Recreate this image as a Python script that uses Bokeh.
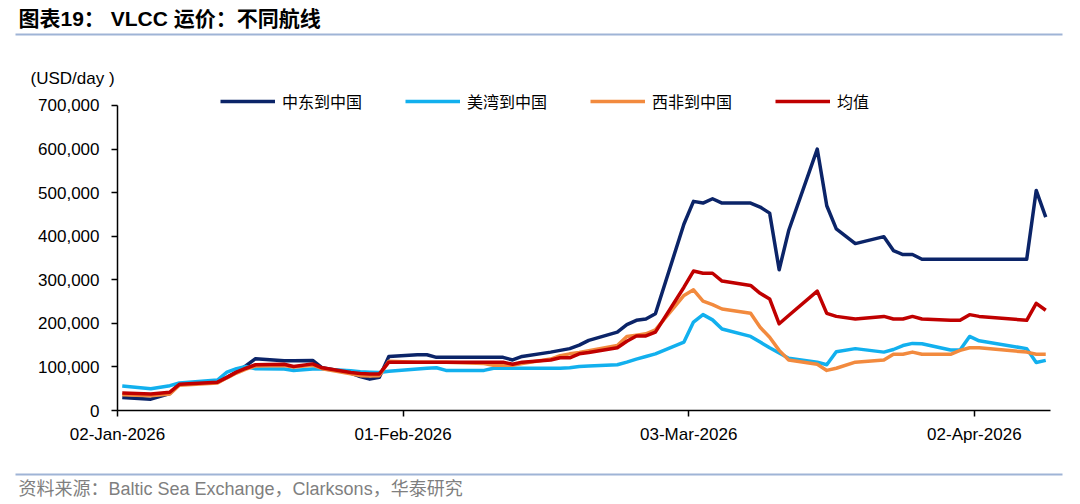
import pandas as pd
from bokeh.plotting import figure
from bokeh.layouts import column
from bokeh.models import (ColumnDataSource, Legend, LegendItem, Label, BoxAnnotation,
                          FixedTicker, DatetimeTickFormatter, NumeralTickFormatter, Range1d)
from bokeh.embed import file_html
from bokeh.resources import INLINE

# ---------------- data (values in thousand USD/day) ----------------
dates = ["2026-01-02", "2026-01-05", "2026-01-07", "2026-01-08", "2026-01-12", "2026-01-13",
         "2026-01-14", "2026-01-15", "2026-01-16", "2026-01-19", "2026-01-20", "2026-01-22",
         "2026-01-23", "2026-01-26", "2026-01-27", "2026-01-28", "2026-01-29", "2026-01-30",
         "2026-02-02", "2026-02-03", "2026-02-04", "2026-02-05", "2026-02-09", "2026-02-10",
         "2026-02-11", "2026-02-12", "2026-02-13", "2026-02-16", "2026-02-17", "2026-02-18",
         "2026-02-19", "2026-02-20", "2026-02-23", "2026-02-24", "2026-02-25", "2026-02-26",
         "2026-02-27", "2026-03-02", "2026-03-03", "2026-03-04", "2026-03-05", "2026-03-06",
         "2026-03-09", "2026-03-10", "2026-03-11", "2026-03-12", "2026-03-13", "2026-03-16",
         "2026-03-17", "2026-03-18", "2026-03-20", "2026-03-23", "2026-03-24", "2026-03-25",
         "2026-03-26", "2026-03-27", "2026-03-30", "2026-03-31", "2026-04-01", "2026-04-02",
         "2026-04-07", "2026-04-08", "2026-04-09"]

me_china = [30, 26, 39, 60, 65, 76, 88, 103, 119, 114, 114, 115, 98, 86, 78, 72, 76, 124,
            128, 128, 122, 122, 122, 122, 122, 116, 124, 134, 138, 142, 150, 161, 180, 197,
            207, 210, 222, 428, 480, 476, 486, 476, 476, 467, 453, 323, 413, 600, 470, 417,
            383, 399, 367, 358, 358, 347, 347, 347, 347, 347, 347, 505, 444]

usg_china = [56, 50, 57, 63, 70, 88, 96, 101, 96, 95, 92, 95, 95, 91, 89, 88, 87, 90,
             95, 97, 98, 92, 92, 97, 97, 97, 97, 97, 97, 98, 101, 102, 105, 111,
             118, 124, 130, 157, 203, 220, 208, 187, 170, 157, 144, 132, 120, 111, 105, 135,
             142, 134, 140, 149, 154, 153, 139, 139, 170, 160, 142, 110, 115]

waf_china = [36, 34, 38, 58, 63, 75, 86, 95, 102, 103, 100, 104, 96, 84, 80, 79, 80, 113,
             111, 111, 111, 111, 108, 104, 104, 104, 108, 118, 126, 130, 133, 137, 149, 170,
             173, 176, 185, 264, 277, 251, 243, 233, 223, 191, 168, 138, 116, 106, 92, 97,
             111, 116, 129, 129, 134, 129, 129, 138, 144, 144, 134, 129, 129]

average = [40, 38, 42, 60, 65, 76, 88, 97, 105, 106, 101, 107, 98, 87, 85, 84, 84, 111,
           111, 111, 111, 111, 111, 111, 111, 106, 111, 116, 121, 121, 130, 133, 144, 159,
           171, 171, 180, 283, 320, 315, 315, 297, 287, 269, 256, 199, 218, 274, 223, 216,
           210, 216, 210, 210, 216, 210, 207, 207, 220, 216, 207, 246, 230]

series_names = ["中东到中国", "美湾到中国", "西非到中国", "均值"]
series_colors = ["#0B2468", "#12B0EE", "#F28A3E", "#C00000"]
y_ticks = [0, 100000, 200000, 300000, 400000, 500000, 600000, 700000]
x_tick_dates = ["2026-01-02", "2026-02-01", "2026-03-03", "2026-04-02"]
x_start, x_end = "2026-01-02", "2026-04-10"

title_text = "图表19： VLCC 运价：不同航线"
unit_text = "(USD/day )"
source_text = "资料来源：Baltic Sea Exchange，Clarksons，华泰研究"

font = "Liberation Sans, Noto Sans CJK SC"
cjk = "Noto Sans CJK SC"
rule_color = "#9FB4D6"
W = 1080


def blank_fig(h):
    f = figure(width=W, height=h, output_backend="svg", toolbar_location=None, title=None,
               x_axis_location=None, y_axis_location=None,
               x_range=Range1d(0, 1), y_range=Range1d(0, 1),
               min_border_left=0, min_border_right=0, min_border_top=0, min_border_bottom=0)
    f.frame_align = False
    f.xgrid.visible = False
    f.ygrid.visible = False
    f.outline_line_color = None
    f.background_fill_color = "white"
    f.border_fill_color = "white"
    return f


# ---------------- header (title, rule, unit) ----------------
TOP_H = 88
top = blank_fig(TOP_H)
top.add_layout(Label(x=18, y=TOP_H - 18, x_units="screen", y_units="screen", text=title_text,
                     text_font=font, text_font_size="21px", text_font_style="bold",
                     text_color="black", text_baseline="middle", text_align="left"))
top.add_layout(BoxAnnotation(left=15, right=1062, top=TOP_H - 33, bottom=TOP_H - 35,
                             left_units="screen", right_units="screen",
                             top_units="screen", bottom_units="screen",
                             fill_color=rule_color, fill_alpha=1, line_color=None))
top.add_layout(Label(x=30, y=TOP_H - 78, x_units="screen", y_units="screen", text=unit_text,
                     text_font=font, text_font_size="17px", text_color="black",
                     text_baseline="middle", text_align="left"))

# ---------------- main chart ----------------
x = pd.to_datetime(dates) + pd.Timedelta(hours=12)   # points sit mid-day (Excel date axis)
src = ColumnDataSource(dict(
    x=x,
    me=[v * 1000 for v in me_china],
    usg=[v * 1000 for v in usg_china],
    waf=[v * 1000 for v in waf_china],
    avg=[v * 1000 for v in average],
))

MAIN_H = 374
p = figure(width=W, height=MAIN_H, x_axis_type="datetime", output_backend="svg",
           toolbar_location=None, title=None,
           x_range=Range1d(pd.Timestamp(x_start), pd.Timestamp(x_end)),
           y_range=Range1d(0, 739000),
           min_border_left=117, min_border_right=30, min_border_top=0, min_border_bottom=52)
p.frame_align = False
p.xgrid.visible = False
p.ygrid.visible = False
p.outline_line_color = None
p.background_fill_color = "white"
p.border_fill_color = "white"

ya = p.yaxis[0]
ya.ticker = FixedTicker(ticks=y_ticks)
ya.bounds = (y_ticks[0], y_ticks[-1])
ya.formatter = NumeralTickFormatter(format="0,0")
ya.major_tick_out = 6
ya.major_tick_in = 0
ya.minor_tick_out = 0
ya.minor_tick_in = 0
ya.axis_line_color = "black"
ya.axis_line_width = 1.5
ya.major_tick_line_color = "black"
ya.major_tick_line_width = 1.5
ya.major_label_text_font = font
ya.major_label_text_font_size = "17px"
ya.major_label_text_color = "black"
ya.major_label_standoff = 12

xa = p.xaxis[0]
tick_ms = [int(pd.Timestamp(d).value // 10**6) for d in x_tick_dates]
xa.ticker = FixedTicker(ticks=tick_ms)
fmt = "%d-%b-%Y"
xa.formatter = DatetimeTickFormatter(microseconds=fmt, milliseconds=fmt, seconds=fmt, minsec=fmt,
                                     minutes=fmt, hourmin=fmt, hours=fmt, days=fmt,
                                     months=fmt, years=fmt)
xa.major_tick_out = 6
xa.major_tick_in = 0
xa.minor_tick_out = 0
xa.minor_tick_in = 0
xa.axis_line_color = "black"
xa.axis_line_width = 1.5
xa.major_tick_line_color = "black"
xa.major_tick_line_width = 1.5
xa.major_label_text_font = font
xa.major_label_text_font_size = "17px"
xa.major_label_text_color = "black"
xa.major_label_standoff = 8

renderers = []
for col, color in zip(["me", "usg", "waf", "avg"], series_colors):
    r = p.line("x", col, source=src, line_width=3.5, line_color=color, line_join="round")
    renderers.append(r)

legend = Legend(items=[LegendItem(label=n, renderers=[r]) for n, r in zip(series_names, renderers)],
                orientation="horizontal", location=(103, 297), glyph_width=55, glyph_height=20,
                label_standoff=7, spacing=43, padding=0, margin=0, border_line_color=None,
                background_fill_alpha=0, label_text_font=cjk, label_text_font_size="16px",
                label_text_color="black")
p.add_layout(legend, "center")

# ---------------- footer (rule, source) ----------------
BOT_H = 504 - TOP_H - MAIN_H
bot = blank_fig(BOT_H)
bot.add_layout(BoxAnnotation(left=15, right=1062, top=504 - 473, bottom=504 - 475,
                             left_units="screen", right_units="screen",
                             top_units="screen", bottom_units="screen",
                             fill_color=rule_color, fill_alpha=1, line_color=None))
bot.add_layout(Label(x=18, y=504 - 488, x_units="screen", y_units="screen", text=source_text,
                     text_font=font, text_font_size="18px", text_color="#7F7F7F",
                     text_baseline="middle", text_align="left"))

layout = column(top, p, bot, spacing=0)
open("out.html", "w").write(file_html(layout, INLINE))
